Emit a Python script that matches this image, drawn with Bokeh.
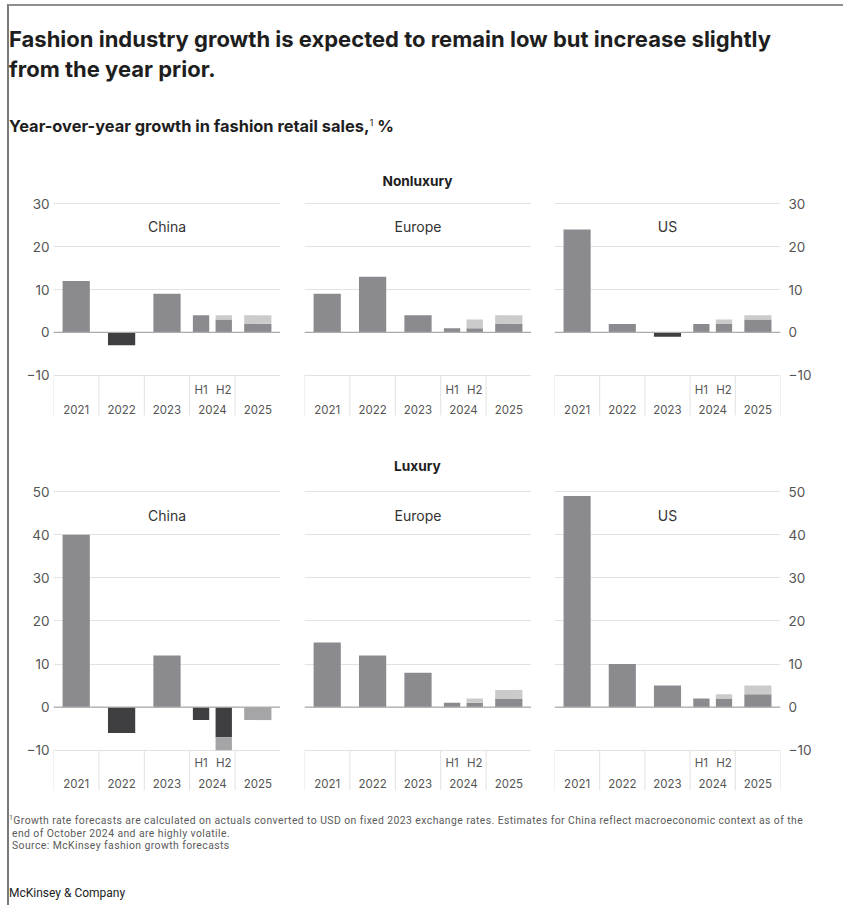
from bokeh.plotting import figure
from bokeh.layouts import row, column
from bokeh.models import Div, Range1d, FixedTicker, Span
from bokeh.core.properties import value
from bokeh.embed import file_html
from bokeh.resources import INLINE

# ---------------- data ----------------
regions = ["China", "Europe", "US"]
years = ["2021", "2022", "2023", "2024", "2025"]
halves = ["H1", "H2"]

# Nonluxury, values per region (China, Europe, US)
nonlux_2021 = [12, 9, 24]
nonlux_2022 = [-3, 13, 2]
nonlux_2023 = [9, 4, -1]
nonlux_2024_h1 = [4, 1, 2]
nonlux_2024_h2_low = [3, 1, 2]
nonlux_2024_h2_high = [4, 3, 3]
nonlux_2025_low = [2, 2, 3]
nonlux_2025_high = [4, 4, 4]
nonlux_ticks = [-10, 0, 10, 20, 30]

# Luxury, values per region (China, Europe, US)
lux_2021 = [40, 15, 49]
lux_2022 = [-6, 12, 10]
lux_2023 = [12, 8, 5]
lux_2024_h1 = [-3, 1, 2]
lux_2024_h2_low = [-7, 1, 2]
lux_2024_h2_high = [-10, 2, 3]
lux_2025_low = [0, 2, 3]
lux_2025_high = [-3, 4, 5]
lux_ticks = [-10, 0, 10, 20, 30, 40, 50]

# ---------------- style ----------------
MID = "#8b8b8f"
DARK = "#3f3f41"
LIGHT = "#cbcbcb"
LIGHT_NEG = "#a5a5a7"
GRID = "#e2e2e2"
FONT = "Inter"

FULL_W = 0.6
HALF_W = 0.36
HALF_OFF = 0.25
BOX_BOTTOM = -19.3

PANEL_GEOM = [
    dict(left=44, fw=227, right=0, axis="left"),
    dict(left=24, fw=227, right=0, axis=None),
    dict(left=23, fw=226, right=63, axis="right"),
]
TOTAL_W = sum(g["left"] + g["fw"] + g["right"] for g in PANEL_GEOM)


def base_color(v):
    return MID if v >= 0 else DARK


def range_color(v):
    return LIGHT if v >= 0 else LIGHT_NEG


def make_panel(i, full, h1, h2lo, h2hi, lo25, hi25, ticks, y_lo, y_hi,
               frame_h, title_y, cat_y, half_y):
    g = PANEL_GEOM[i]
    p = figure(
        x_range=Range1d(-0.5, len(years) - 0.5),
        y_range=Range1d(y_lo, y_hi),
        frame_width=g["fw"], frame_height=frame_h,
        min_border_left=g["left"], min_border_right=g["right"],
        min_border_top=10, min_border_bottom=0,
        x_axis_location=None, y_axis_location=g["axis"],
        toolbar_location=None, output_backend="svg", title=None,
        background_fill_color="white", border_fill_color="white",
    )
    p.outline_line_color = None
    p.xgrid.visible = False
    p.ygrid.ticker = FixedTicker(ticks=ticks)
    p.ygrid.grid_line_color = GRID
    p.ygrid.grid_line_width = 1
    if g["axis"] is not None:
        ax = p.yaxis[0]
        ax.ticker = FixedTicker(ticks=ticks)
        ax.axis_line_color = None
        ax.major_tick_line_color = None
        ax.minor_tick_line_color = None
        ax.major_tick_out = 0
        ax.major_tick_in = 0
        ax.major_label_standoff = 4 if g["axis"] == "left" else 8
        ax.major_label_text_font = FONT
        ax.major_label_text_font_size = "13.5px"
        ax.major_label_text_color = "#555555"
        ax.major_label_overrides = {t: (f"\u2212{abs(t)}" if t < 0 else str(t)) for t in ticks}

    xs, ws, bots, tops, cols = [], [], [], [], []

    def add(x, w, b, t, c):
        if t == b:
            return
        xs.append(x); ws.append(w); bots.append(b); tops.append(t); cols.append(c)

    for k, arr in enumerate(full):
        add(k, FULL_W, 0, arr[i], base_color(arr[i]))
    k24 = years.index("2024")
    k25 = years.index("2025")
    add(k24 - HALF_OFF, HALF_W, 0, h1[i], base_color(h1[i]))
    add(k24 + HALF_OFF, HALF_W, 0, h2lo[i], base_color(h2lo[i]))
    add(k24 + HALF_OFF, HALF_W, h2lo[i], h2hi[i], range_color(h2hi[i]))
    add(k25, FULL_W, 0, lo25[i], base_color(lo25[i]))
    add(k25, FULL_W, lo25[i], hi25[i], range_color(hi25[i]))

    p.vbar(x=xs, width=ws, bottom=bots, top=tops, fill_color=cols, line_color=None)

    p.add_layout(Span(location=0, dimension="width", line_color="#ababab", line_width=1.3))

    # category box separators
    bounds = [k - 0.5 for k in range(len(years) + 1)]
    p.segment(x0=bounds, y0=[ticks[0]] * len(bounds), x1=bounds, y1=[BOX_BOTTOM] * len(bounds),
              line_color=GRID, line_width=1)

    p.text(x=list(range(len(years))), y=[cat_y] * len(years), text=years,
           text_align="center", text_baseline="middle", text_font=value(FONT),
           text_font_size=value("11.5px"), text_color="#555555")
    p.text(x=[k24 - HALF_OFF, k24 + HALF_OFF], y=[half_y] * 2, text=halves,
           text_align="center", text_baseline="middle", text_font=value(FONT),
           text_font_size=value("11.5px"), text_color="#555555")
    p.text(x=[(len(years) - 1) / 2], y=[title_y], text=[regions[i]],
           text_align="center", text_baseline="middle", text_font=value(FONT),
           text_font_size=value("14px"), text_color="#333333")
    return p


nonlux_full = [nonlux_2021, nonlux_2022, nonlux_2023]
lux_full = [lux_2021, lux_2022, lux_2023]

row1 = row(*[
    make_panel(i, nonlux_full, nonlux_2024_h1, nonlux_2024_h2_low, nonlux_2024_h2_high,
               nonlux_2025_low, nonlux_2025_high, nonlux_ticks, -20.5, 30.5, 219,
               24.6, -17.9, -13.3)
    for i in range(3)
], spacing=0)

row2 = row(*[
    make_panel(i, lux_full, lux_2024_h1, lux_2024_h2_low, lux_2024_h2_high,
               lux_2025_low, lux_2025_high, lux_ticks, -20.5, 50.5, 306,
               44.5, -17.65, -13.0)
    for i in range(3)
], spacing=0)

header = Div(
    text=(
        f'<div style="font-family:{FONT};color:#1e1e1e;">'
        '<div style="padding-top:18px;font-size:22px;font-weight:700;line-height:30px;">'
        'Fashion industry growth is expected to remain low but increase slightly<br>from the year prior.</div>'
        '<div style="margin-top:29px;font-size:16.4px;font-weight:700;line-height:20px;">'
        'Year-over-year growth in fashion retail sales,<span style="font-size:9.5px;vertical-align:6px;font-weight:400;">1</span> %</div>'
        '<div style="margin-top:37px;margin-left:295px;width:227px;text-align:center;font-size:13.7px;font-weight:700;line-height:16px;">Nonluxury</div>'
        '</div>'
    ),
    width=TOTAL_W, height=185, margin=(0, 0, 0, 0),
)

lux_label = Div(
    text=(
        f'<div style="font-family:{FONT};color:#1e1e1e;padding-top:38px;margin-left:295px;width:227px;'
        'text-align:center;font-size:13.7px;font-weight:700;line-height:16px;">Luxury</div>'
    ),
    width=TOTAL_W, height=59, margin=(0, 0, 0, 0),
)

footer = Div(
    text=(
        '<div style="font-family:Roboto;color:#5a5a5a;font-size:10.4px;letter-spacing:0.42px;line-height:12.6px;padding-top:17px;">'
        '<span style="font-size:7px;vertical-align:4px;">1</span>Growth rate forecasts are calculated on actuals converted to USD on fixed 2023 exchange rates. '
        'Estimates for China reflect macroeconomic context as of the<br>'
        '<span style="padding-left:3px;">end of October 2024 and are highly volatile.</span><br>'
        '<span style="padding-left:3px;">Source: McKinsey fashion growth forecasts</span></div>'
        '<div style="margin-top:33px;font-family:Roboto;color:#222;font-size:12px;line-height:14px;">McKinsey &amp; Company</div>'
    ),
    width=TOTAL_W, height=110, margin=(0, 0, 0, 0),
)

layout = column(header, row1, lux_label, row2, footer, spacing=0, margin=(4, 0, 0, 7),
                styles={"border-left": "2px solid #7a7a7a", "border-top": "2px solid #8f8f8f"})

with open("out.html", "w") as f:
    f.write(file_html(layout, INLINE))
